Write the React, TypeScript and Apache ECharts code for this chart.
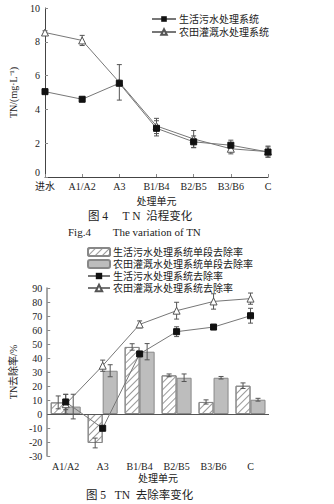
import React, { useEffect, useRef } from "react";
import * as echarts from "echarts";

// ---------- Figure 4 data ----------
const stages1 = ["进水", "A1/A2", "A3", "B1/B4", "B2/B5", "B3/B6", "C"];
const domesticTN = [5.05, 4.6, 5.55, 2.88, 2.08, 1.88, 1.48];
const domesticTNErr = [0.1, 0.12, 0.0, 0.45, 0.35, 0.3, 0.3];
const farmTN = [8.55, 8.08, 5.6, 3.02, 2.25, 1.67, 1.5];
const farmTNErr = [0.1, 0.3, 1.05, 0.45, 0.5, 0.3, 0.33];

// ---------- Figure 5 data ----------
const stages2 = ["A1/A2", "A3", "B1/B4", "B2/B5", "B3/B6", "C"];
const domesticStage = [8.3, -20.7, 47.9, 27.6, 8.6, 20.2];
const domesticStageErr = [4.6, 3.5, 2.3, 1.0, 1.5, 2.0];
const farmStage = [5.3, 30.9, 44.5, 25.9, 25.9, 10.2];
const farmStageErr = [8.8, 4.3, 5.8, 2.7, 0.9, 1.0];
const domesticTotal = [8.6, -10.2, 42.9, 58.8, 62.1, 70.2];
const domesticTotalErr = [5.5, 1.5, 0, 3.5, 1.5, 5.3];
const farmTotal = [7.0, 34.5, 64.0, 73.8, 80.4, 82.4];
const farmTotalErr = [7.0, 4.0, 2.5, 6.0, 5.5, 4.0];

const names1 = ["生活污水处理系统", "农田灌溉水处理系统"];
const names2 = [
  "生活污水处理系统单段去除率",
  "农田灌溉水处理系统单段去除率",
  "生活污水处理系统去除率",
  "农田灌溉水处理系统去除率",
];

const FONT = "'Liberation Serif', 'Noto Sans CJK SC', serif";
const AXIS = "#444";
const LINE = "#777";

function errRender(offset: number) {
  return (params: any, api: any) => {
    const i = api.value(0);
    const v = api.value(1);
    const e = api.value(2);
    if (!e) return { type: "group", children: [] };
    const top = api.coord([i, v + e]);
    const bot = api.coord([i, v - e]);
    const x = top[0] + offset;
    const hw = 2.5;
    const st = { stroke: "#555", lineWidth: 1 };
    return {
      type: "group",
      children: [
        { type: "line", shape: { x1: x, y1: top[1], x2: x, y2: bot[1] }, style: st },
        { type: "line", shape: { x1: x - hw, y1: top[1], x2: x + hw, y2: top[1] }, style: st },
        { type: "line", shape: { x1: x - hw, y1: bot[1], x2: x + hw, y2: bot[1] }, style: st },
      ],
    };
  };
}

function errSeries(xi: number, yi: number, vals: number[], errs: number[], offset: number, z: number) {
  return {
    type: "custom",
    xAxisIndex: xi,
    yAxisIndex: yi,
    renderItem: errRender(offset),
    encode: { x: 0, y: 1 },
    data: vals.map((v, i) => [i, v, errs[i]]),
    z,
    silent: true,
  };
}

export default function App() {
  const ref = useRef<HTMLDivElement>(null);
  useEffect(() => {
    document.body.style.margin = "0";
    const chart = echarts.init(ref.current!, undefined, { renderer: "svg" });
    const axisLabel = { fontFamily: FONT, fontSize: 10, color: "#222" };
    const option: any = {
      animation: false,
      textStyle: { fontFamily: FONT },
      grid: [
        { left: 43, right: 66, top: 8, height: 169 },
        { left: 44, right: 65, top: 288, height: 168 },
      ],
      legend: [
        {
          data: names1,
          orient: "vertical",
          left: 146,
          top: 9,
          itemWidth: 24,
          itemHeight: 7,
          itemGap: 3,
          textStyle: { fontFamily: FONT, fontSize: 10, color: "#222", padding: [0, 0, 0, -2] },
        },
        {
          data: names2,
          orient: "vertical",
          left: 82,
          top: 242,
          itemWidth: 22,
          itemHeight: 8,
          itemGap: 2,
          textStyle: { fontFamily: FONT, fontSize: 10, color: "#222", padding: [0, 0, 0, -2] },
        },
      ],
      xAxis: [
        {
          type: "category",
          gridIndex: 0,
          data: stages1,
          boundaryGap: false,
          axisLine: { lineStyle: { color: AXIS } },
          axisTick: { inside: true, length: 3, lineStyle: { color: "#888" } },
          axisLabel: { ...axisLabel, margin: 4 },
          name: "处理单元",
          nameLocation: "middle",
          nameGap: 19,
          nameTextStyle: { fontFamily: FONT, fontSize: 10, color: "#222" },
        },
        {
          type: "category",
          gridIndex: 1,
          data: stages2,
          axisLine: { show: false, onZero: false },
          axisTick: { show: false },
          axisLabel: { ...axisLabel, margin: 5 },
          name: "处理单元",
          nameLocation: "middle",
          nameGap: 17,
          nameTextStyle: { fontFamily: FONT, fontSize: 10, color: "#222" },
        },
      ],
      yAxis: [
        {
          type: "value",
          gridIndex: 0,
          min: 0,
          max: 10,
          interval: 2,
          splitLine: { show: false },
          axisLine: { show: true, lineStyle: { color: AXIS } },
          axisTick: { show: true, inside: true, length: 3, lineStyle: { color: "#888" } },
          axisLabel: {
            ...axisLabel,
            margin: 5,
            formatter: (v: number) => (v === 0 ? "{z|0}" : String(v)),
            rich: { z: { fontFamily: FONT, fontSize: 10, color: "#222", padding: [0, 0, 9, 0] } },
          },
          name: "TN/(mg·L⁻¹)",
          nameLocation: "middle",
          nameGap: 27,
          nameTextStyle: { fontFamily: FONT, fontSize: 10, color: "#222" },
        },
        {
          type: "value",
          gridIndex: 1,
          min: -30,
          max: 90,
          interval: 10,
          splitLine: { show: false },
          axisLine: { show: true, lineStyle: { color: "#888", width: 1.5 } },
          axisTick: { show: true, inside: true, length: 3, lineStyle: { color: "#888" } },
          axisLabel: { ...axisLabel, margin: 5 },
          name: "TN去除率/%",
          nameLocation: "middle",
          nameGap: 28,
          nameTextStyle: { fontFamily: FONT, fontSize: 10, color: "#222" },
        },
      ],
      series: [
        // Figure 4 lines
        {
          name: names1[0],
          type: "line",
          xAxisIndex: 0,
          yAxisIndex: 0,
          data: domesticTN,
          symbol: "rect",
          symbolSize: 6,
          itemStyle: { color: "#111", borderColor: "#111" },
          lineStyle: { color: LINE, width: 1 },
          z: 5,
        },
        {
          name: names1[1],
          type: "line",
          xAxisIndex: 0,
          yAxisIndex: 0,
          data: farmTN,
          symbol: "triangle",
          symbolSize: 7,
          itemStyle: { color: "#fff", borderColor: "#555", borderWidth: 1 },
          lineStyle: { color: LINE, width: 1 },
          z: 4,
        },
        errSeries(0, 0, domesticTN, domesticTNErr, 0, 3),
        errSeries(0, 0, farmTN, farmTNErr, 0, 3),
        // Figure 5 bars
        {
          name: names2[0],
          type: "bar",
          xAxisIndex: 1,
          yAxisIndex: 1,
          data: domesticStage,
          barWidth: 15,
          barGap: "0%",
          itemStyle: {
            color: "#fff",
            borderColor: "#888",
            borderWidth: 1,
            decal: {
              symbol: "rect",
              symbolSize: 1,
              color: "#999",
              dashArrayX: [1, 0],
              dashArrayY: [1, 4],
              rotation: -Math.PI / 4,
            },
          },
          markLine: {
            silent: true,
            symbol: "none",
            label: { show: false },
            lineStyle: { color: "#555", width: 1, type: "solid" },
            data: [{ yAxis: 0 }],
          },
          z: 2,
        },
        {
          name: names2[1],
          type: "bar",
          xAxisIndex: 1,
          yAxisIndex: 1,
          data: farmStage,
          barWidth: 15,
          barGap: "0%",
          itemStyle: { color: "#bdbdbd", borderColor: "#888", borderWidth: 1 },
          z: 2,
        },
        errSeries(1, 1, domesticStage, domesticStageErr, -7.5, 3),
        errSeries(1, 1, farmStage, farmStageErr, 7.5, 3),
        {
          name: names2[2],
          type: "line",
          xAxisIndex: 1,
          yAxisIndex: 1,
          data: domesticTotal,
          symbol: "rect",
          symbolSize: 6,
          itemStyle: { color: "#111", borderColor: "#111" },
          lineStyle: { color: LINE, width: 1 },
          z: 6,
        },
        {
          name: names2[3],
          type: "line",
          xAxisIndex: 1,
          yAxisIndex: 1,
          data: farmTotal,
          symbol: "triangle",
          symbolSize: 7,
          itemStyle: { color: "#fff", borderColor: "#555", borderWidth: 1 },
          lineStyle: { color: LINE, width: 1 },
          z: 5,
        },
        errSeries(1, 1, domesticTotal, domesticTotalErr, 0, 4),
        errSeries(1, 1, farmTotal, farmTotalErr, 0, 4),
      ],
      graphic: [
        {
          type: "text",
          left: 88,
          top: 210,
          style: { text: "图 4　 T N  沿程变化", fontFamily: FONT, fontSize: 11.5, fill: "#222" },
        },
        {
          type: "text",
          left: 68,
          top: 226,
          style: { text: "Fig.4        The variation of TN", fontFamily: FONT, fontSize: 11, fill: "#222" },
        },
        {
          type: "text",
          left: 86,
          top: 489,
          style: { text: "图 5   TN  去除率变化", fontFamily: FONT, fontSize: 11.5, fill: "#222" },
        },
      ],
    };
    chart.setOption(option);
    return () => chart.dispose();
  }, []);
  return <div ref={ref} style={{ width: 334, height: 504 }} />;
}
